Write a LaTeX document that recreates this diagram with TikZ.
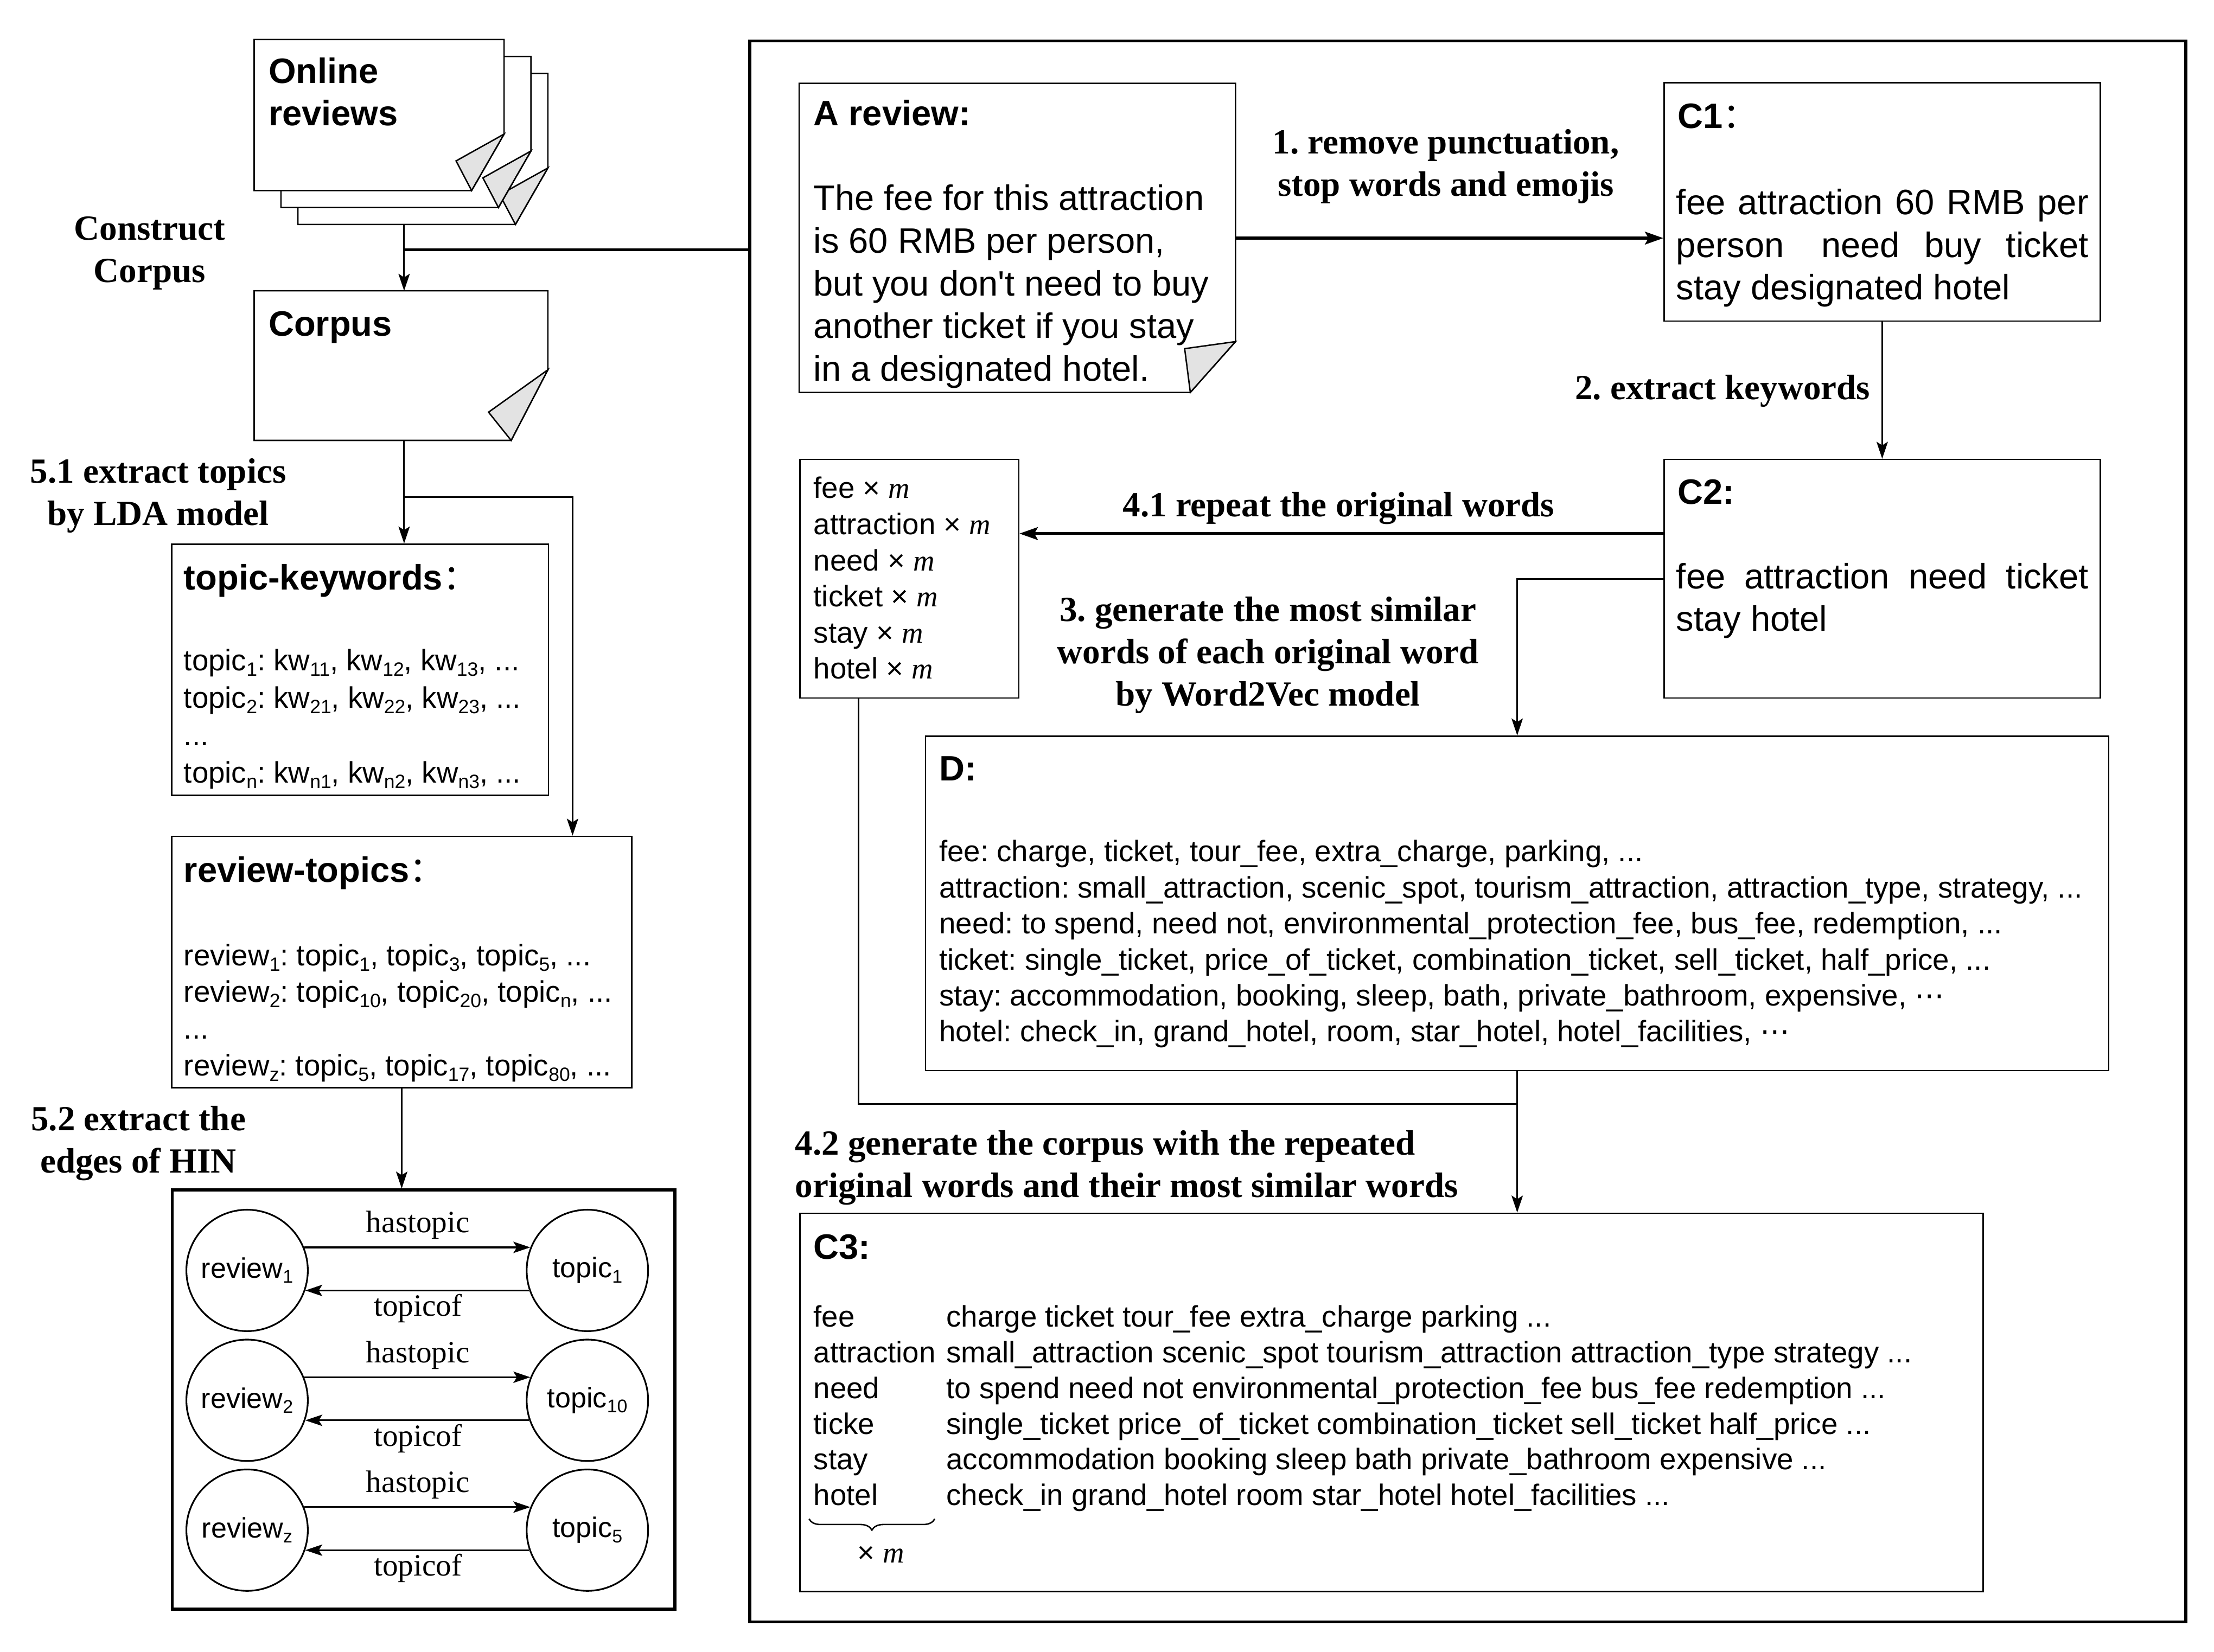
\documentclass[tikz,border=0pt]{standalone}
\usepackage{fontspec}
\usepackage{graphicx}
\setmainfont{Liberation Sans}
\newfontfamily\tnr{Liberation Serif}
\newfontfamily\cjk{Noto Sans CJK SC}
\newfontfamily\dejavu{DejaVu Sans}
\usetikzlibrary{arrows.meta,decorations.pathreplacing}
\definecolor{foldgray}{HTML}{E3E3E3}
\newcommand\sbs[1]{\raisebox{-0.18em}{\scalebox{0.65}{#1}}}
\newcommand\ml[1]{\begin{tabular}[t]{@{}l@{}}#1\end{tabular}}
\newcommand\mc[1]{\begin{tabular}[t]{@{}c@{}}#1\end{tabular}}
\newcommand\mm{{\tnr\itshape m}}
\newcommand\cdts{{\dejavu ⋯}}
\frenchspacing
\begin{document}
\frenchspacing
\begin{tikzpicture}[x=1pt,y=-1pt,
  box/.style={draw, line width=1pt, inner sep=0, anchor=north west},
  thickbox/.style={draw, line width=2pt, inner sep=0, anchor=north west},
  area/.style={inner sep=0, anchor=north west},
  page/.style={draw, fill=white, line width=1pt, line join=miter},
  fold/.style={draw, fill=foldgray, line width=1pt},
  arr/.style={-{Stealth[length=12pt,width=8pt,inset=2.5pt]}, line width=1.2pt},
  tarr/.style={-{Stealth[length=13pt,width=9pt,inset=2.5pt]}, line width=2pt},
  ttl/.style={font=\bfseries\fontsize{25}{30}\selectfont, anchor=base west, inner sep=0},
  txt/.style={font=\fontsize{25}{30.2}\selectfont, anchor=base west, inner sep=0},
  sml/.style={font=\fontsize{21}{#1}\selectfont, anchor=base west, inner sep=0},
  sml/.default=25.5,
  lbl/.style={font=\tnr\bfseries\fontsize{25}{30}\selectfont, anchor=base, inner sep=0},
  elbl/.style={font=\tnr\fontsize{22}{26}\selectfont, inner sep=0},
  circ/.style={draw, circle, minimum size=86pt, inner sep=0, line width=1.2pt, font=\fontsize{20}{24}\selectfont}
]
\useasboundingbox (0,0) rectangle (1568,1170);

% ---------- Online reviews stack ----------
\foreach \dx/\dy in {31/24, 19/12, 0/0}{
  \begin{scope}[shift={(\dx,\dy)}]
    \draw[page] (180,28) -- (357,28) -- (357,95) -- (334,135) -- (180,135) -- cycle;
    \draw[fold] (357,95) -- (323,114) -- (334,135) -- cycle;
  \end{scope}
}
\node[area, minimum width=177pt, minimum height=107pt] (on3) at (211,52) {};
\node[ttl] (t-online) at (190,59) {\ml{Online\\reviews}};
\node[lbl] (l-construct) at (106,170) {\mc{Construct\\Corpus}};

% ---------- Corpus ----------
\draw[page] (180,206) -- (388,206) -- (388,262) -- (362,312) -- (180,312) -- cycle;
\draw[fold] (388,262) -- (346,292) -- (362,312) -- cycle;
\node[area, minimum width=212pt, minimum height=106pt] (corpus) at (180,206) {};
\node[ttl] (t-corpus) at (190,238) {Corpus};

\draw[arr] (corpus.north |- on3.south) -- (corpus.north);
\coordinate (j) at (corpus.north |- 0,177);

% ---------- topic-keywords ----------
\node[box, minimum width=267pt, minimum height=178pt] (tk) at (121,385) {};
\node[ttl] (t-tk) at (130,418) {topic-keywords{\cjk\mdseries ：}};
\node[sml=26.5] (x-tk) at (130,475) {\ml{topic\sbs{1}: kw\sbs{11}, kw\sbs{12}, kw\sbs{13}, ...\\
topic\sbs{2}: kw\sbs{21}, kw\sbs{22}, kw\sbs{23}, ...\\
...\\
topic\sbs{n}: kw\sbs{n1}, kw\sbs{n2}, kw\sbs{n3}, ...}};

% ---------- review-topics ----------
\node[box, minimum width=326pt, minimum height=178pt] (rt) at (121,592) {};
\node[ttl] (t-rt) at (130,625) {review-topics{\cjk\mdseries ：}};
\node[sml=26] (x-rt) at (130,684) {\ml{review\sbs{1}: topic\sbs{1}, topic\sbs{3}, topic\sbs{5}, ...\\
review\sbs{2}: topic\sbs{10}, topic\sbs{20}, topic\sbs{n}, ...\\
...\\
review\sbs{z}: topic\sbs{5}, topic\sbs{17}, topic\sbs{80}, ...}};

\node[lbl] (l-51) at (112,342) {\mc{5.1 extract topics\\by LDA model}};
\draw[arr] (corpus.south) -- (corpus.south |- tk.north);
\coordinate (b51) at (corpus.south |- 0,352);
\draw[arr] (b51) -| ([xshift=121pt]rt.north);

% ---------- HIN ----------
\node[thickbox, minimum width=356pt, minimum height=297pt] (hin) at (121,842) {};
\node[lbl] (l-52) at (98,801) {\mc{5.2 extract the\\edges of HIN}};
\draw[arr] (rt.south) -- (rt.south |- hin.north);

\node[circ] (r1) at (175,900) {review\sbs{1}};
\node[circ] (t1) at (416,900) {topic\sbs{1}};
\node[circ] (r2) at (175,992) {review\sbs{2}};
\node[circ] (t2) at (416,992) {topic\sbs{10}};
\node[circ] (r3) at (175,1084) {review\sbs{z}};
\node[circ] (t3) at (416,1084) {topic\sbs{5}};
\foreach \r/\t in {r1/t1, r2/t2, r3/t3}{
  \draw[arr] (\r.22) -- (\t.158);
  \draw[arr] (\t.199) -- (\r.-19);
}
\node[elbl] (h1) at (296,868) {hastopic};
\node[elbl] (o1) at (296,927) {topicof};
\node[elbl] (h2) at (296,960) {hastopic};
\node[elbl] (o2) at (296,1019) {topicof};
\node[elbl] (h3) at (296,1052) {hastopic};
\node[elbl] (o3) at (296,1111) {topicof};

% ---------- big box ----------
\node[thickbox, minimum width=1017pt, minimum height=1120pt] (big) at (530,28) {};
\draw[line width=2pt] (j) -- (j -| big.west);

% ---------- A review ----------
\draw[page] (566,59) -- (875,59) -- (875,242) -- (843,278) -- (566,278) -- cycle;
\draw[fold] (875,242) -- (839,247) -- (843,278) -- cycle;
\node[area, minimum width=309pt, minimum height=219pt] (rev) at (566,59) {};
\node[ttl] (t-rev) at (576,89) {A review:};
\node[txt] (x-rev) at (576,149) {\ml{The fee for this attraction\\is 60 RMB per person,\\but you don\textquotesingle t need to buy\\another ticket if you stay\\in a designated hotel.}};

% ---------- C1 ----------
\node[box, minimum width=309pt, minimum height=169pt] (c1) at (1178,58) {};
\node[ttl] (t-c1) at (1188,91) {C1{\cjk\mdseries ：}};
\node[txt] (x-c1) at (1187,152) {\ml{\makebox[292pt][s]{fee attraction 60 RMB per}\\
\makebox[292pt][s]{person\ \ \ need\ \ buy\ \ ticket}\\stay designated hotel}};
\draw[tarr] (rev.east) -- (rev.east -| c1.west);
\node[lbl] (l-1) at (1024,109) {\mc{1. remove punctuation,\\stop words and emojis}};

% ---------- C2 ----------
\node[box, minimum width=309pt, minimum height=169pt] (c2) at (1178,325) {};
\node[ttl] (t-c2) at (1188,357) {C2:};
\node[txt] (x-c2) at (1187,417) {\ml{\makebox[292pt][s]{fee attraction need ticket}\\stay hotel}};
\draw[arr] (c1.south) -- (c2.north);
\node[lbl] (l-2) at (1220,283) {2. extract keywords};

% ---------- repeated words ----------
\node[box, minimum width=155pt, minimum height=169pt] (rep) at (566,325) {};
\node[sml=25.6] (x-rep) at (576,353) {\ml{fee × \mm\\attraction × \mm\\need × \mm\\ticket × \mm\\stay × \mm\\hotel × \mm}};
\draw[tarr] (c2.west |- 0,378) -- (rep.east |- 0,378);
\node[lbl] (l-41) at (948,366) {4.1 repeat the original words};

% ---------- D ----------
\node[box, minimum width=838pt, minimum height=237pt] (d) at (655,521) {};
\node[ttl] (t-d) at (665,553) {D:};
\node[sml=25.5] (x-d) at (665,610.5) {\ml{fee: charge, ticket, tour\_fee, extra\_charge, parking, ...\\
attraction: small\_attraction, scenic\_spot, tourism\_attraction, attraction\_type, strategy, ...\\
need: to spend, need not, environmental\_protection\_fee, bus\_fee, redemption, ...\\
ticket: single\_ticket, price\_of\_ticket, combination\_ticket, sell\_ticket, half\_price, ...\\
stay: accommodation, booking, sleep, bath, private\_bathroom, expensive, \cdts\\
hotel: check\_in, grand\_hotel, room, star\_hotel, hotel\_facilities, \cdts}};
\draw[arr] (c2.west) -| (d.north);
\node[lbl] (l-3) at (898,440) {\mc{3. generate the most similar\\words of each original word\\by Word2Vec model}};

% ---------- C3 ----------
\node[box, minimum width=838pt, minimum height=268pt] (c3) at (566,859) {};
\node[ttl] (t-c3) at (576,892) {C3:};
\coordinate (m) at (d.south |- 0,782);
\draw[line width=1.2pt] (rep.south -| 608,0) |- (m);
\draw[arr] (d.south) -- (d.south |- c3.north);
\node[lbl, anchor=base west] (l-42) at (563,818) {\ml{4.2 generate the corpus with the repeated\\original words and their most similar words}};
\node[sml=25.3] (x-c3a) at (576,940) {\ml{fee\\attraction\\need\\ticke\\stay\\hotel}};
\node[sml=25.3] (x-c3b) at (670,940) {\ml{charge ticket tour\_fee extra\_charge parking ...\\
small\_attraction scenic\_spot tourism\_attraction attraction\_type strategy ...\\
to spend need not environmental\_protection\_fee bus\_fee redemption ...\\
single\_ticket price\_of\_ticket combination\_ticket sell\_ticket half\_price ...\\
accommodation booking sleep bath private\_bathroom expensive ...\\
check\_in grand\_hotel room star\_hotel hotel\_facilities ...}};
\draw[decorate, decoration={brace, mirror, amplitude=8pt}, line width=1pt] (573,1076) -- (662,1076);
\node[sml, anchor=base] (x-m) at (624,1107) {× \mm};
\end{tikzpicture}
\end{document}
